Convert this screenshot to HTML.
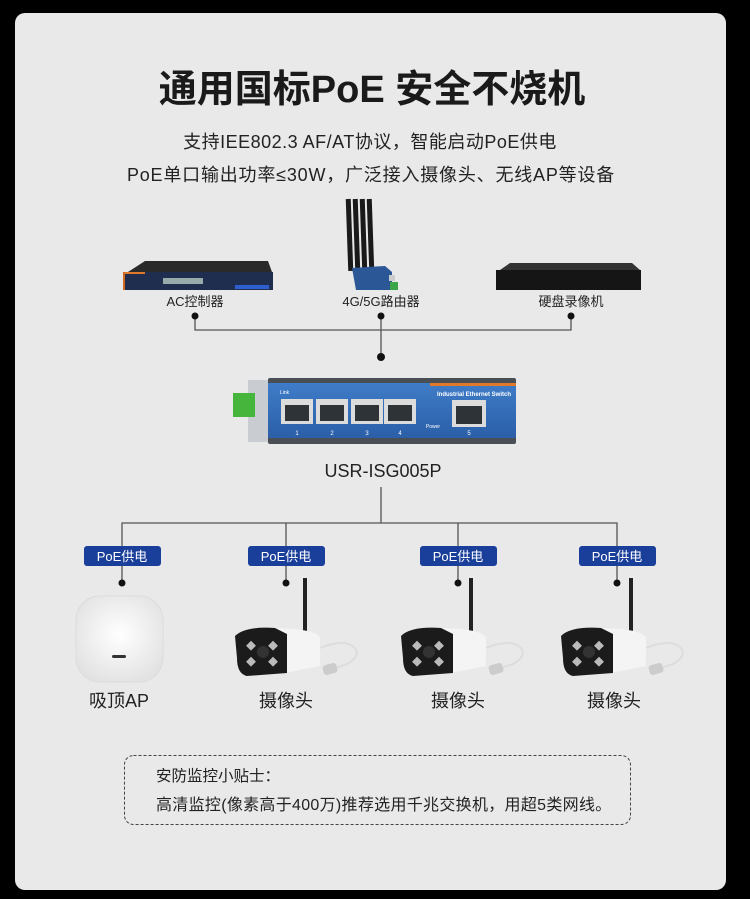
<!DOCTYPE html>
<html><head><meta charset="utf-8"><style>
html,body{margin:0;padding:0;background:#000;}
svg{display:block}
text{font-family:"Liberation Sans","Noto Sans CJK SC",sans-serif;}
</style></head><body>
<svg width="750" height="899" viewBox="0 0 750 899" xmlns="http://www.w3.org/2000/svg">
<defs>
<radialGradient id="apg" cx="50%" cy="45%" r="60%"><stop offset="0" stop-color="#ffffff"/><stop offset="1" stop-color="#e2e2e2"/></radialGradient>
<linearGradient id="swg" x1="0" y1="0" x2="0" y2="1"><stop offset="0" stop-color="#3f7cc8"/><stop offset="1" stop-color="#2b5fa8"/></linearGradient>
<g id="cam">
  <rect x="68" y="-50" width="4" height="56" fill="#222"/>
  <path d="M30 0 Q82 0 85 10 L85 38 L50 45 L30 5 Z" fill="#f4f4f4"/>
  <path d="M0 8 Q10 -2 40 0 L52 6 L52 45 L12 48 Q2 46 2 30 Z" fill="#1b1b1b"/>
  <circle cx="28" cy="24" r="6" fill="#333"/>
  <rect x="13" y="14" width="7" height="7" fill="#bbb" transform="rotate(45 16 17)"/>
  <rect x="35" y="14" width="7" height="7" fill="#bbb" transform="rotate(45 38 17)"/>
  <rect x="13" y="30" width="7" height="7" fill="#bbb" transform="rotate(45 16 33)"/>
  <rect x="35" y="30" width="7" height="7" fill="#bbb" transform="rotate(45 38 33)"/>
  <path d="M85 20 Q110 10 120 20 Q126 28 112 36 L100 40" fill="none" stroke="#ddd" stroke-width="2"/>
  <rect x="88" y="36" width="14" height="10" rx="3" fill="#ccc" transform="rotate(-15 95 41)"/>
</g>
</defs>
<rect x="15" y="13" width="711" height="877" rx="10" fill="#e9e9e9"/>
<text x="372" y="102" text-anchor="middle" font-size="38" font-weight="bold" fill="#1a1a1a">通用国标PoE 安全不烧机</text>
<text x="370" y="148" text-anchor="middle" font-size="18" fill="#222" letter-spacing="0.5">支持IEE802.3 AF/AT协议，智能启动PoE供电</text>
<text x="371" y="181" text-anchor="middle" font-size="18" fill="#222" letter-spacing="0.8">PoE单口输出功率≤30W，广泛接入摄像头、无线AP等设备</text>

<!-- AC controller -->
<path d="M128 272 L145 261 L268 261 L272 272 Z" fill="#2a2a2a"/>
<rect x="123" y="272" width="150" height="18" fill="#1f2e4e"/>
<rect x="123" y="272" width="22" height="2" fill="#e07a2a"/>
<rect x="123" y="272" width="2" height="18" fill="#d06a20"/>
<rect x="163" y="278" width="40" height="6" fill="#9aa"/>
<rect x="235" y="285" width="34" height="4" fill="#2d5fd0"/>
<text x="195" y="306" text-anchor="middle" font-size="13" fill="#222">AC控制器</text>
<!-- router -->
<rect x="347" y="199" width="5" height="72" fill="#1a1a1a" transform="rotate(-2 349 235)"/>
<rect x="354" y="199" width="5" height="72" fill="#1a1a1a" transform="rotate(-2 356 235)"/>
<rect x="361" y="199" width="5" height="72" fill="#1a1a1a" transform="rotate(-2 363 235)"/>
<rect x="368" y="199" width="5" height="72" fill="#1a1a1a" transform="rotate(-2 370 235)"/>
<path d="M352 268 L385 266 L392 272 L392 290 L356 290 Z" fill="#2c5797"/>
<rect x="389" y="275" width="6" height="6" fill="#ccc"/>
<rect x="390" y="282" width="8" height="8" fill="#3aa648"/>
<text x="381" y="306" text-anchor="middle" font-size="13" fill="#222">4G/5G路由器</text>
<!-- DVR -->
<path d="M500 270 L510 263 L632 263 L640 270 Z" fill="#333"/>
<rect x="496" y="270" width="145" height="20" fill="#151515"/>
<text x="571" y="306" text-anchor="middle" font-size="13" fill="#222">硬盘录像机</text>

<!-- top connectors -->
<path d="M195 316 V330 H571 V316 M381 316 V357" fill="none" stroke="#555" stroke-width="1.3"/>
<circle cx="195" cy="316" r="3.5" fill="#111"/><circle cx="381" cy="316" r="3.5" fill="#111"/><circle cx="571" cy="316" r="3.5" fill="#111"/><circle cx="381" cy="357" r="4" fill="#111"/>

<!-- switch -->
<rect x="248" y="380" width="20" height="62" fill="#c9ccd0"/>
<rect x="233" y="393" width="22" height="24" fill="#46b53b"/>
<rect x="268" y="378" width="248" height="66" rx="2" fill="#4a4e55"/>
<rect x="268" y="383" width="248" height="55" fill="url(#swg)"/>
<rect x="430" y="383" width="86" height="3" fill="#e07a2a"/>
<text x="280" y="394" font-size="5" fill="#fff">Link</text>
<text x="474" y="396" text-anchor="middle" font-size="6" font-weight="bold" fill="#fff">Industrial Ethernet Switch</text>
<g fill="#dcdcdc"><rect x="281" y="399" width="32" height="25"/><rect x="316" y="399" width="32" height="25"/><rect x="351" y="399" width="32" height="25"/><rect x="384" y="399" width="32" height="25"/><rect x="452" y="400" width="34" height="27"/></g>
<g fill="#2e3338"><rect x="285" y="405" width="24" height="16"/><rect x="320" y="405" width="24" height="16"/><rect x="355" y="405" width="24" height="16"/><rect x="388" y="405" width="24" height="16"/><rect x="456" y="406" width="26" height="18"/></g>
<g font-size="6" fill="#fff" text-anchor="middle"><text x="297" y="435">1</text><text x="332" y="435">2</text><text x="367" y="435">3</text><text x="400" y="435">4</text><text x="469" y="435">5</text><text x="433" y="428" font-size="5">Power</text></g>
<text x="383" y="477" text-anchor="middle" font-size="18" fill="#222">USR-ISG005P</text>

<!-- bottom connectors -->
<path d="M381 487 V523 M122 583 V523 H617 V583 M286 523 V583 M458 523 V583" fill="none" stroke="#555" stroke-width="1.3"/>
<g fill="#1a3f9a">
<rect x="84" y="546" width="77" height="20" rx="3"/><rect x="248" y="546" width="77" height="20" rx="3"/><rect x="420" y="546" width="77" height="20" rx="3"/><rect x="579" y="546" width="77" height="20" rx="3"/>
</g>
<g font-size="13" fill="#fff" text-anchor="middle">
<text x="122" y="561">PoE供电</text><text x="286" y="561">PoE供电</text><text x="458" y="561">PoE供电</text><text x="617" y="561">PoE供电</text>
</g>
<g fill="#111"><circle cx="122" cy="583" r="3.5"/><circle cx="286" cy="583" r="3.5"/><circle cx="458" cy="583" r="3.5"/><circle cx="617" cy="583" r="3.5"/></g>

<!-- AP -->
<rect x="76" y="596" width="87" height="86" rx="24" fill="url(#apg)" stroke="#dcdcdc"/>
<rect x="112" y="655" width="14" height="3" rx="1.5" fill="#333"/>
<text x="119" y="707" text-anchor="middle" font-size="18" fill="#222">吸顶AP</text>

<use href="#cam" transform="translate(235 628)"/>
<use href="#cam" transform="translate(401 628)"/>
<use href="#cam" transform="translate(561 628)"/>
<text x="286" y="707" text-anchor="middle" font-size="18" fill="#222">摄像头</text>
<text x="458" y="707" text-anchor="middle" font-size="18" fill="#222">摄像头</text>
<text x="614" y="707" text-anchor="middle" font-size="18" fill="#222">摄像头</text>

<!-- tip box -->
<rect x="124.5" y="755.5" width="506" height="69" rx="9" fill="none" stroke="#444" stroke-width="1" stroke-dasharray="3,2"/>
<text x="156" y="781" font-size="15.5" fill="#222">安防监控小贴士：</text>
<text x="156" y="810" font-size="16" fill="#222" letter-spacing="0.3">高清监控(像素高于400万)推荐选用千兆交换机，用超5类网线。</text>
</svg>
</body></html>
